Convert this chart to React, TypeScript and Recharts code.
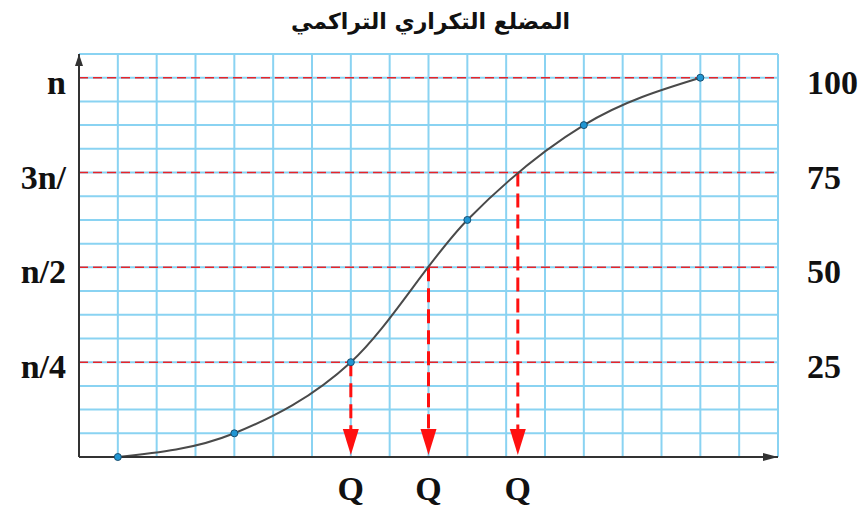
import { LineChart, Line, XAxis, YAxis, CartesianGrid, ReferenceLine, ReferenceDot } from 'recharts';

// cumulative frequency polygon
const upperBounds = [1, 4, 7, 10, 13, 16];
const cumulativeFreq = [0, 6.25, 25, 62.5, 87.5, 100];

// reference levels n/4, n/2, 3n/4, n
const levelValues = [25, 50, 75, 100];
const levelLeftLabels = ['n/4', 'n/2', '3n/', 'n'];
const levelRightLabels = ['25', '50', '75', '100'];

// quartile read-off positions
const quartileX = [7, 9, 11.3];
const quartileLevel = [25, 50, 75];
const quartileLabels = ['Q', 'Q', 'Q'];

// squared paper
const gridXTicks = [0, 1, 2, 3, 4, 5, 6, 7, 8, 9, 10, 11, 12, 13, 14, 15, 16, 17, 18];
const gridYTicks = [
  0, 6.25, 12.5, 18.75, 25, 31.25, 37.5, 43.75, 50, 56.25, 62.5, 68.75, 75, 81.25, 87.5, 93.75, 100, 106.25,
];

const data = upperBounds.map((x, i) => ({ x, f: cumulativeFreq[i] }));

const labelFont = "'Liberation Serif', 'Times New Roman', serif";
const RED = '#ff1010';
const AXIS = '#333';

function EmptyTick() {
  return <g />;
}

function LeftTick({ x, y, payload }: any) {
  const i = levelValues.indexOf(payload.value);
  if (i < 0) return <g />;
  return (
    <text x={x} y={y} dy={16} textAnchor="end" fontFamily={labelFont} fontWeight="bold" fontSize={34} fill="#111">
      {levelLeftLabels[i]}
    </text>
  );
}

// value printed to the right of the plot, on the level line
const rightLabel = (text: string) => (p: any) => {
  const vb = p.viewBox || {};
  return (
    <text
      x={vb.x + vb.width + 29}
      y={vb.y}
      dy={16}
      textAnchor="start"
      fontFamily={labelFont}
      fontWeight="bold"
      fontSize={34}
      fill="#111"
    >
      {text}
    </text>
  );
};

const quartileArrow = (label: string) => (p: any) => {
  const x = p.x1;
  const top = Math.min(p.y1, p.y2);
  const base = Math.max(p.y1, p.y2);
  const tip = base - 2;
  return (
    <g>
      <line x1={x} y1={top} x2={x} y2={tip - 24} stroke={RED} strokeWidth={3} strokeDasharray="14 7" />
      <polygon points={`${x - 8},${tip - 26} ${x + 8},${tip - 26} ${x},${tip}`} fill={RED} />
      <text x={x} y={base + 43} textAnchor="middle" fontFamily={labelFont} fontWeight="bold" fontSize={34} fill="#111">
        {label}
      </text>
    </g>
  );
};

const rightArrowHead = (p: any) => (
  <polygon points={`${p.cx - 15},${p.cy - 4} ${p.cx - 15},${p.cy + 4} ${p.cx},${p.cy}`} fill={AXIS} />
);

const upArrowHead = (p: any) => (
  <polygon points={`${p.cx - 4},${p.cy + 12} ${p.cx + 4},${p.cy + 12} ${p.cx},${p.cy}`} fill={AXIS} />
);

export default function App() {
  return (
    <div style={{ position: 'absolute', left: 0, top: 0, width: 861, height: 510, background: '#fff' }}>
      <div
        style={{
          position: 'absolute',
          left: 0,
          top: 9,
          width: 861,
          textAlign: 'center',
          direction: 'rtl',
          fontFamily: "'DejaVu Sans', serif",
          fontWeight: 'bold',
          fontSize: 22,
          color: '#111',
        }}
      >
        المضلع التكراري التراكمي
      </div>
      <LineChart width={861} height={510} data={data} margin={{ top: 54, right: 83, bottom: 0, left: 0 }}>
        <CartesianGrid stroke="#8ad3f2" strokeWidth={2} />
        <XAxis
          dataKey="x"
          type="number"
          domain={[0, 18]}
          ticks={gridXTicks}
          interval={0}
          height={53}
          tick={<EmptyTick />}
          tickLine={false}
          axisLine={{ stroke: AXIS, strokeWidth: 2 }}
        />
        <YAxis
          type="number"
          domain={[0, 106.25]}
          ticks={gridYTicks}
          width={79}
          tickSize={0}
          tickMargin={13}
          tickLine={false}
          tick={<LeftTick />}
          axisLine={{ stroke: AXIS, strokeWidth: 2 }}
          interval={0}
        />
        {levelValues.map((v, i) => (
          <ReferenceLine
            key={v}
            y={v}
            stroke="#e8242a"
            strokeWidth={1.5}
            strokeDasharray="9 5"
            label={rightLabel(levelRightLabels[i])}
          />
        ))}
        {quartileX.map((qx, i) => (
          <ReferenceLine
            key={`q${i}`}
            segment={[
              { x: qx, y: quartileLevel[i] },
              { x: qx, y: 0 },
            ]}
            ifOverflow="visible"
            shape={quartileArrow(quartileLabels[i])}
          />
        ))}
        <Line
          type="monotone"
          dataKey="f"
          stroke="#4a4a4a"
          strokeWidth={2}
          dot={{ r: 3.5, fill: '#2196d3', stroke: '#1a4f70', strokeWidth: 1 }}
          isAnimationActive={false}
        />
        <ReferenceDot x={18} y={0} ifOverflow="visible" shape={rightArrowHead} />
        <ReferenceDot x={0} y={106.25} ifOverflow="visible" shape={upArrowHead} />
      </LineChart>
    </div>
  );
}
